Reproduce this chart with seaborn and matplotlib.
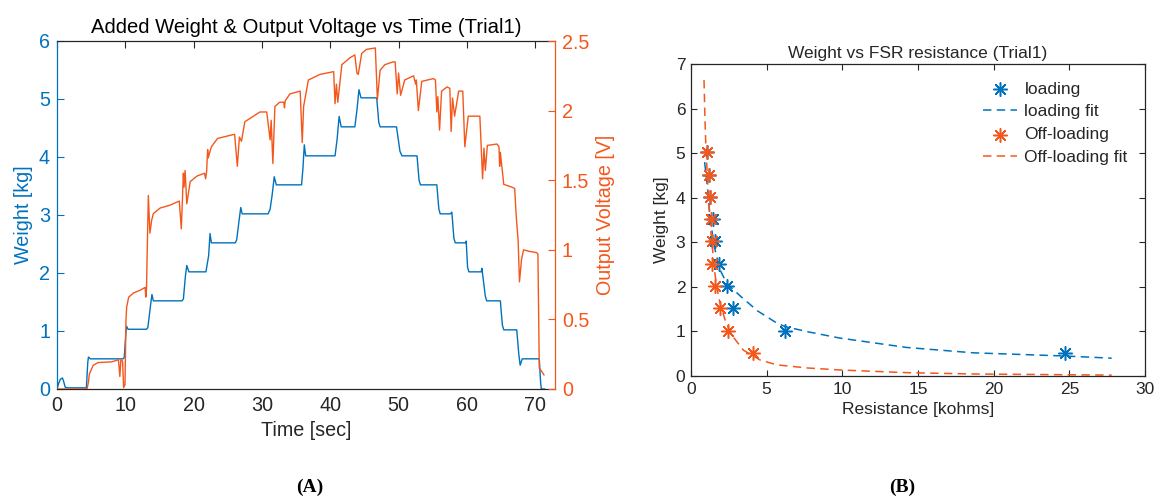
import numpy as np
import pandas as pd
import matplotlib
matplotlib.use("Agg")
import matplotlib.pyplot as plt
import seaborn as sns

# ---------------- data: panel A ----------------
time_weight = [0.0, 0.25, 0.5, 0.8, 1.0, 1.2, 1.5, 4.3, 4.5, 4.6, 4.9, 9.7, 9.85, 10.1, 10.2, 10.4,
               13.1, 13.3, 13.7, 13.9, 14.1, 18.3, 18.5, 18.8, 19.0, 19.3, 21.8, 22.2, 22.4, 22.6,
               26.1, 26.3, 26.7, 26.9, 27.1, 30.9, 31.2, 31.5, 31.8, 32.1, 35.8, 36.0, 36.2, 36.4,
               40.7, 41.0, 41.3, 41.6, 43.6, 43.9, 44.2, 44.5, 46.8, 47.1, 47.3, 49.7, 50.2, 50.5,
               52.7, 53.0, 53.2, 55.6, 55.9, 56.1, 57.6, 57.8, 58.1, 58.3, 59.8, 59.9, 60.1, 60.3,
               62.1, 62.2, 62.7, 62.9, 64.9, 65.2, 65.4, 67.3, 67.6, 67.8, 68.1, 70.6, 70.8, 70.9, 71.4]
weight_kg = [0.00, 0.10, 0.17, 0.19, 0.12, 0.03, 0.02, 0.02, 0.45, 0.55, 0.52, 0.52, 0.55, 1.00, 1.08, 1.03,
             1.03, 1.06, 1.45, 1.63, 1.52, 1.52, 1.55, 1.95, 2.13, 2.02, 2.02, 2.30, 2.68, 2.52,
             2.52, 2.57, 2.95, 3.13, 3.02, 3.02, 3.10, 3.35, 3.66, 3.52, 3.52, 3.80, 4.21, 4.02,
             4.02, 4.30, 4.70, 4.52, 4.52, 4.80, 5.16, 5.02, 5.02, 4.60, 4.52, 4.52, 4.10, 4.02,
             4.02, 3.60, 3.52, 3.52, 3.10, 3.02, 3.02, 3.05, 2.60, 2.52, 2.52, 2.55, 2.10, 2.02,
             2.02, 2.08, 1.60, 1.52, 1.52, 1.10, 1.02, 1.02, 0.60, 0.41, 0.52, 0.52, 0.10, 0.00, 0.00]

time_voltage = [0.0, 4.4, 4.6, 4.75, 5.3, 6.0, 8.0, 9.0, 9.2, 9.35, 9.6, 9.75, 9.95, 10.1, 10.2, 10.5,
                11.2, 12.2, 12.9, 13.0, 13.1, 13.37, 13.6, 13.85, 14.1, 15.1, 16.5, 17.9, 18.2, 18.5,
                18.6, 18.75, 19.0, 19.5, 20.5, 21.6, 21.75, 21.9, 22.05, 22.15, 22.3, 22.6, 23.5, 26.0,
                26.4, 26.7, 27.0, 27.5, 29.7, 30.7, 31.2, 31.35, 31.6, 31.9, 32.6, 33.2, 33.3, 33.4,
                34.1, 35.6, 35.9, 36.1, 36.8, 38.5, 40.5, 40.7, 40.9, 41.1, 41.7, 42.9, 43.6, 43.9,
                44.1, 44.6, 45.3, 46.6, 46.9, 47.3, 48.0, 49.2, 49.5, 49.8, 50.0, 50.3, 50.9, 52.2,
                52.5, 52.6, 52.9, 53.4, 55.1, 55.4, 55.6, 55.75, 56.0, 56.3, 57.1, 57.5, 57.7, 57.9,
                58.2, 58.8, 59.4, 59.7, 60.2, 61.9, 62.3, 62.5, 62.7, 63.0, 64.4, 64.7, 64.8, 64.9,
                65.4, 66.6, 67.0, 67.2, 67.3, 67.5, 67.7, 68.0, 68.3, 69.0, 70.2, 70.4, 70.6, 70.9, 71.3]
voltage_v = [0.00, 0.00, 0.05, 0.11, 0.17, 0.19, 0.195, 0.21, 0.09, 0.21, 0.20, 0.01, 0.03, 0.50, 0.59, 0.66,
             0.69, 0.71, 0.73, 0.66, 0.72, 1.39, 1.12, 1.21, 1.26, 1.30, 1.32, 1.35, 1.15, 1.55,
             1.45, 1.57, 1.33, 1.49, 1.53, 1.55, 1.51, 1.56, 1.72, 1.66, 1.69, 1.74, 1.80, 1.83,
             1.60, 1.81, 1.78, 1.92, 1.99, 1.99, 1.79, 1.93, 1.62, 2.03, 2.06, 2.06, 2.02, 2.07,
             2.12, 2.14, 1.77, 2.03, 2.22, 2.26, 2.28, 2.05, 2.19, 2.06, 2.33, 2.38, 2.40, 2.27,
             2.26, 2.41, 2.44, 2.45, 2.08, 2.29, 2.33, 2.35, 2.35, 2.12, 2.27, 2.11, 2.22, 2.25,
             2.19, 2.22, 2.00, 2.21, 2.23, 2.22, 1.99, 2.10, 1.86, 2.14, 2.17, 2.16, 1.85, 2.09,
             1.96, 2.14, 2.14, 1.74, 1.96, 1.96, 1.51, 1.73, 1.57, 1.75, 1.76, 1.74, 1.60, 1.70,
             1.47, 1.45, 1.44, 1.26, 1.19, 1.07, 0.77, 0.93, 1.00, 0.99, 0.98, 0.97, 0.15, 0.13, 0.10]

# ---------------- data: panel B ----------------
weights_b = [0.52, 1.02, 1.52, 2.02, 2.52, 3.02, 3.52, 4.02, 4.52, 5.02]
res_loading = [24.7, 6.21, 2.80, 2.36, 1.85, 1.59, 1.43, 1.26, 1.17, 1.08]
res_offloading = [4.08, 2.47, 1.92, 1.59, 1.41, 1.39, 1.30, 1.26, 1.19, 1.08]

fit_load_r = [0.90, 1.06, 1.26, 1.45, 1.59, 1.92, 2.36, 3.24, 4.4, 5.66, 6.21, 7.75, 9.85, 14.26, 18.66, 24.6, 27.8]
fit_load_w = [4.80, 4.32, 3.57, 3.10, 2.83, 2.38, 2.08, 1.80, 1.46, 1.19, 1.11, 0.99, 0.85, 0.64, 0.52, 0.45, 0.40]
fit_off_r = [0.86, 0.92, 0.99, 1.08, 1.15, 1.30, 1.43, 1.52, 1.70, 1.92, 2.25, 2.69, 3.46, 4.56, 5.66, 7.7, 9.85, 14.26, 18.66, 27.8]
fit_off_w = [6.64, 5.80, 5.07, 4.50, 4.02, 3.28, 2.83, 2.45, 2.00, 1.63, 1.26, 0.92, 0.58, 0.36, 0.25, 0.18, 0.135, 0.075, 0.045, 0.02]

BLUE = "#0072BD"
ORANGE = "#F4571C"
DARK = "#262626"

sns.set_theme(style="white")
plt.rcParams["font.family"] = ["Liberation Sans", "DejaVu Sans"]
plt.rcParams["xtick.direction"] = "in"
plt.rcParams["ytick.direction"] = "in"

fig = plt.figure(figsize=(11.6, 4.96), dpi=100)

FA = 14.2
FB = 12.5

# ---------------- Panel A ----------------
ax = fig.add_axes([57 / 1160, 1 - 389 / 496, 498 / 1160, 348 / 496])
ax2 = ax.twinx()

sns.lineplot(x=time_weight, y=weight_kg, ax=ax, color=BLUE, lw=1.0, sort=False, estimator=None, legend=False)
sns.lineplot(x=time_voltage, y=voltage_v, ax=ax2, color=ORANGE, lw=1.0, sort=False, estimator=None, legend=False)

ax.set_xlim(0, 72.9)
ax.set_ylim(0, 6)
ax2.set_ylim(0, 2.5)
ax.set_xticks(np.arange(0, 71, 10))
ax.set_yticks(np.arange(0, 7, 1))
ax2.set_yticks(np.arange(0, 2.6, 0.5))
ax2.set_yticklabels(["0", "0.5", "1", "1.5", "2", "2.5"])

ax.tick_params(axis="x", colors=DARK, labelcolor=DARK, labelsize=FA, length=5, width=0.8, top=True, pad=5)
ax.tick_params(axis="y", colors=BLUE, labelcolor=BLUE, labelsize=FA, length=5, width=0.8, pad=5, left=True)
ax2.tick_params(axis="y", colors=ORANGE, labelcolor=ORANGE, labelsize=FA, length=5, width=0.8, pad=5, right=True)

for s in ["top", "bottom"]:
    ax.spines[s].set_color(DARK)
    ax.spines[s].set_linewidth(0.9)
ax.spines["left"].set_color(BLUE)
ax.spines["left"].set_linewidth(0.9)
ax.spines["right"].set_visible(False)
for s in ["top", "bottom", "left"]:
    ax2.spines[s].set_visible(False)
ax2.spines["right"].set_color(ORANGE)
ax2.spines["right"].set_linewidth(0.9)

ax.set_xlabel("Time [sec]", fontsize=FA, color=DARK, labelpad=4)
ax.set_ylabel("Weight [kg]", fontsize=FA, color=BLUE, labelpad=4)
ax2.set_ylabel("Output Voltage [V]", fontsize=FA, color=ORANGE, labelpad=5)
ax.set_title("Added Weight & Output Voltage vs Time (Trial1)", fontsize=14.6, color="black", pad=6)

# ---------------- Panel B ----------------
bx = fig.add_axes([691 / 1160, 1 - 376 / 496, 454 / 1160, 312 / 496])
star = (8, 2, 0)
sns.scatterplot(x=res_loading, y=weights_b, ax=bx, marker=star, s=95, color=BLUE, linewidth=1.1,
                label="loading", zorder=3)
sns.lineplot(x=fit_load_r, y=fit_load_w, ax=bx, color=BLUE, lw=1.1, sort=False, estimator=None,
             label="loading fit")
bx.lines[-1].set_dashes((5.5, 3.5))
sns.scatterplot(x=res_offloading, y=weights_b, ax=bx, marker=star, s=95, color=ORANGE, linewidth=1.1,
                label="Off-loading", zorder=3)
sns.lineplot(x=fit_off_r, y=fit_off_w, ax=bx, color=ORANGE, lw=1.1, sort=False, estimator=None,
             label="Off-loading fit")
bx.lines[-1].set_dashes((5.5, 3.5))

bx.set_xlim(0, 30)
bx.set_ylim(0, 7)
bx.set_xticks(np.arange(0, 31, 5))
bx.set_yticks(np.arange(0, 8, 1))
bx.tick_params(axis="both", colors=DARK, labelcolor=DARK, labelsize=FB, length=4, width=0.8, pad=4,
               top=True, right=True, left=True, bottom=True)
for s in bx.spines.values():
    s.set_color(DARK)
    s.set_linewidth(0.9)
    s.set_visible(True)
bx.set_xlabel("Resistance [kohms]", fontsize=FB, color=DARK, labelpad=4)
bx.set_ylabel("Weight [kg]", fontsize=FB, color=DARK, labelpad=5)
bx.set_title("Weight vs FSR resistance (Trial1)", fontsize=FB, color=DARK, pad=4)

leg = bx.legend(loc="upper right", frameon=False, fontsize=FB, labelspacing=0.45,
                handlelength=2.0, handletextpad=0.4, borderaxespad=0.6)

fig.text(310 / 1160, 1 - 487 / 496, "(A)", ha="center", va="center", fontsize=14,
         fontweight="bold", family=["Liberation Serif", "DejaVu Serif"], color="black")
fig.text(902 / 1160, 1 - 487 / 496, "(B)", ha="center", va="center", fontsize=14,
         fontweight="bold", family=["Liberation Serif", "DejaVu Serif"], color="black")

fig.savefig("out.png", dpi=100)
